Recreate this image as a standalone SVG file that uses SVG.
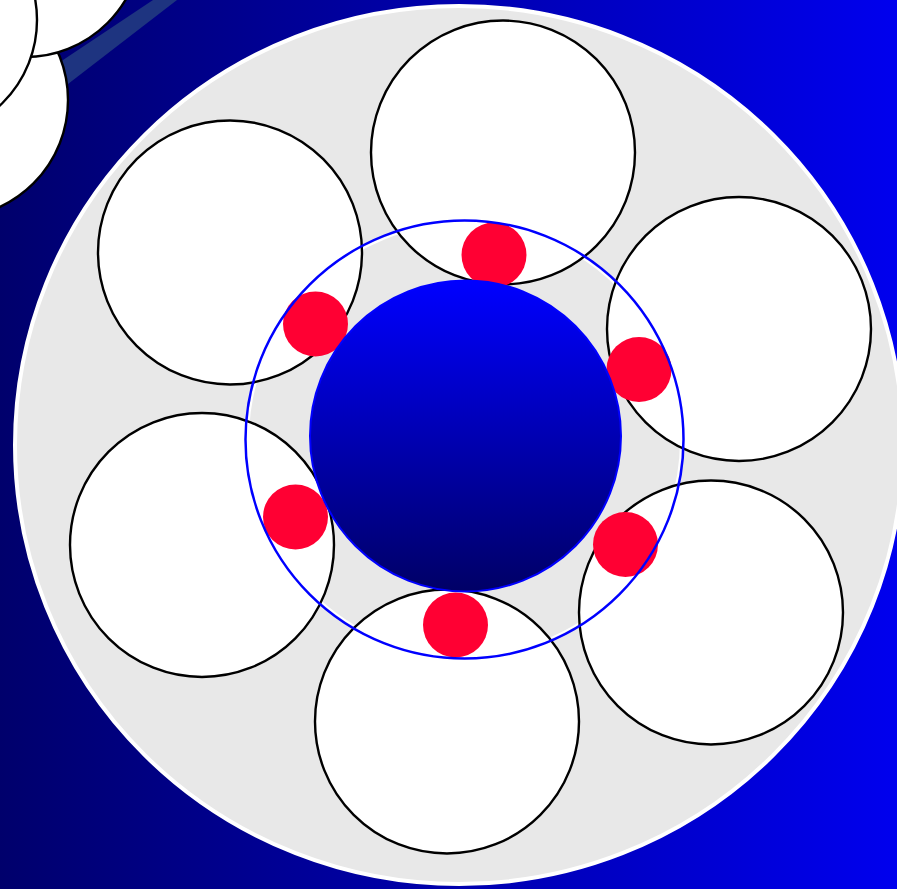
<svg xmlns="http://www.w3.org/2000/svg" width="897" height="889" viewBox="0 0 897 889">
<defs>
<linearGradient id="bg" x1="0" y1="0" x2="1" y2="0">
<stop offset="0" stop-color="#00006C"/>
<stop offset="1" stop-color="#0000EE"/>
</linearGradient>
<linearGradient id="core" x1="0" y1="0" x2="0" y2="1">
<stop offset="0" stop-color="#0000FF"/>
<stop offset="1" stop-color="#000066"/>
</linearGradient>
<style>
.wc{fill:#FFFFFF;stroke:#000000;stroke-width:2.4}
.red{fill:#FF0033}
</style>
</defs>
<rect x="0" y="0" width="897" height="889" fill="url(#bg)"/>
<g id="band"><polygon points="153,0 177,0 68,84 60,62" fill="#1E3480"/></g>
<g id="corner-circles">
<circle cx="-50" cy="100" r="118" class="wc"/>
<circle cx="25" cy="-60" r="117" class="wc"/>
<circle cx="-80" cy="20" r="117" class="wc"/>
</g>
<g id="disk"><ellipse cx="459" cy="445" rx="444" ry="439" fill="#E8E8E8" stroke="#FFFFFF" stroke-width="4"/></g>
<g id="inner-white-ring"><circle cx="464.5" cy="439.5" r="216.5" fill="none" stroke="#FFFFFF" stroke-width="2"/></g>
<g id="outer-circles">
<circle id="c-top" cx="503" cy="152.5" r="132" class="wc"/>
<circle id="c-ul" cx="230" cy="252.5" r="132" class="wc"/>
<circle id="c-ru" cx="739" cy="329" r="132" class="wc"/>
<circle id="c-rl" cx="711" cy="612.5" r="132" class="wc"/>
<circle id="c-bot" cx="447" cy="721.5" r="132" class="wc"/>
<circle id="c-ll" cx="202" cy="545" r="132" class="wc"/>
</g>
<g id="red-dots">
<circle cx="494" cy="255" r="32.5" class="red"/>
<circle cx="315.5" cy="324" r="32.5" class="red"/>
<circle cx="639" cy="369.5" r="32.5" class="red"/>
<circle cx="295.5" cy="517" r="32.5" class="red"/>
<circle cx="625.5" cy="544.5" r="32.5" class="red"/>
<circle cx="455.5" cy="625" r="32.5" class="red"/>
</g>
<g id="ring"><circle cx="464.5" cy="439.5" r="219" fill="none" stroke="#0000FF" stroke-width="2.5"/></g>
<g id="core-circle"><circle cx="465.5" cy="436" r="155.5" fill="url(#core)" stroke="#0000FF" stroke-width="2"/></g>
</svg>
